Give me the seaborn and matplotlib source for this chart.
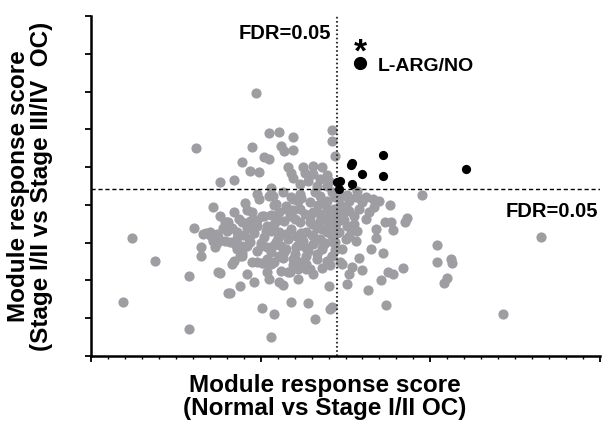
import pandas as pd
import seaborn as sns
import matplotlib.pyplot as plt
from matplotlib.lines import Line2D
from matplotlib.ticker import MultipleLocator

# Limiares de FDR (linhas tracejadas)
fdr_x = 1.447
fdr_y = 4.42

# Modulos acima do limiar do eixo y (lado esquerdo)
upper_x = [0.97, 0.62, 0.95, 1.02, 1.05, 1.05, 1.11, 1.19, 1.12, 1.14, 1.19, 0.89, 0.94, 0.99, 0.76, 0.84, 1.16, 1.18,
           1.19, 1.25, 1.26, 1.31, 1.31, 1.36, 1.39, 1.40, 1.39, 1.42, 1.42, 1.44, 1.33, 1.06, 1.23, 1.28, 1.35]
upper_y = [6.96, 5.50, 5.53, 5.26, 5.21, 5.90, 5.93, 5.79, 5.56, 5.42, 5.45, 5.13, 4.89, 4.87, 4.60, 4.66, 5.00, 4.84,
           4.71, 5.00, 4.84, 5.03, 4.81, 5.00, 4.79, 4.63, 4.50, 5.98, 5.69, 5.29, 4.50, 4.44, 4.55, 4.63, 4.68]

# Pontos isolados
outlier_x = [0.24, 0.38, 0.19, 0.58, 0.58, 0.61, 0.72, 1.06, 1.01, 1.08, 1.18, 1.28, 1.32, 1.41, 1.40, 1.36]
outlier_y = [3.12, 2.51, 1.43, 2.12, 0.71, 3.39, 3.94, 0.50, 1.27, 1.11, 1.43, 1.40, 0.98, 1.24, 1.85, 2.33]

# Nucleo denso (abaixo do limiar, lado esquerdo)
core1_x = [0.91, 0.76, 0.84, 0.81, 0.65, 0.65, 0.75, 0.76, 0.81, 0.82, 0.88, 0.92, 0.96, 1.01, 1.04, 1.05, 1.11, 1.13,
           1.12, 1.16, 1.22, 1.22, 1.27, 1.29, 1.31]
core1_y = [4.05, 3.70, 3.81, 3.54, 2.65, 2.88, 2.22, 2.20, 1.67, 1.67, 1.85, 2.17, 1.96, 2.46, 2.22, 2.04, 1.96, 1.88,
           2.25, 2.22, 2.04, 2.30, 2.43, 2.30, 2.17]
core2_x = [0.72, 0.70, 0.68, 0.75, 0.78, 0.80, 0.83, 0.86, 0.87, 0.89, 0.94, 0.95, 0.98, 1.01, 1.04, 1.06, 1.08, 1.11,
           1.14, 1.19, 0.66]
core2_y = [3.04, 3.28, 3.25, 3.15, 3.39, 3.54, 3.39, 3.28, 3.62, 3.54, 3.57, 3.81, 3.44, 3.70, 3.44, 3.73, 3.49, 3.81,
           3.57, 3.86, 3.23]
core3_x = [0.82, 0.86, 0.89, 0.92, 0.98, 1.04, 1.06, 1.09, 1.11, 1.15, 1.21, 1.27, 1.31, 1.35, 1.39, 1.42, 1.31, 1.36,
           1.21, 1.15]
core3_y = [3.02, 2.83, 2.65, 2.91, 2.78, 2.88, 2.75, 3.02, 3.28, 3.23, 3.17, 3.28, 3.17, 3.10, 3.28, 3.17, 2.96, 2.83,
           2.88, 2.83]
core4_x = [0.98, 1.05, 1.13, 1.19, 1.23, 1.29, 1.35, 1.39, 1.42, 1.39, 1.31, 1.23, 1.15, 1.09]
core4_y = [4.29, 4.23, 4.34, 4.15, 4.29, 4.07, 4.23, 4.10, 4.34, 3.89, 3.81, 3.89, 3.97, 4.02]
core5_x = [1.23, 1.29, 1.35, 1.39, 1.42, 1.44, 1.41, 1.27, 1.33, 1.39, 1.42, 1.19, 1.11, 1.04, 0.95]
core5_y = [3.54, 3.54, 3.57, 3.62, 3.70, 3.44, 3.36, 2.65, 2.57, 2.51, 2.65, 2.57, 2.65, 2.57, 2.49]
core6_x = [0.71, 0.74, 0.73, 0.85, 0.89, 0.94, 0.84, 0.83, 0.88, 0.89, 0.98, 1.02, 1.06, 1.08, 1.17, 1.23, 1.27]
core6_y = [3.17, 3.23, 2.88, 2.96, 2.91, 3.02, 2.51, 2.43, 2.65, 2.72, 2.49, 2.46, 2.43, 2.49, 2.22, 2.49, 2.30]
core7_x = [0.92, 1.02, 1.08, 1.15, 1.18, 1.22, 0.99, 1.07, 0.70, 0.79]
core7_y = [3.86, 3.70, 3.99, 3.89, 4.21, 4.10, 4.15, 4.23, 3.23, 3.54]
core8_x = [1.25, 1.33, 1.18, 1.20, 1.37, 1.43, 1.28, 1.40, 1.34, 1.26, 1.16, 1.10, 1.02, 0.96, 0.92, 1.00, 1.12, 1.24,
           1.44, 1.44, 1.30, 1.22, 1.06, 0.98]
core8_y = [3.05, 3.40, 3.35, 3.62, 2.95, 3.00, 2.78, 3.85, 4.00, 3.75, 3.10, 3.12, 3.15, 3.25, 3.40, 3.00, 2.90, 3.25,
           2.80, 3.60, 3.50, 2.95, 3.30, 3.60]
core9_x = [1.30, 1.36, 1.40, 1.33, 1.26, 1.20, 1.14, 1.08, 1.00, 0.93, 0.86, 0.79, 0.74, 1.38, 1.43, 1.35, 1.29, 1.17,
           1.10, 1.03, 0.97, 1.24, 1.32, 1.38, 1.45, 1.41, 1.19, 1.13, 0.90, 0.80]
core9_y = [3.20, 3.35, 3.48, 2.70, 2.88, 2.70, 2.75, 2.95, 2.90, 3.10, 3.12, 3.05, 2.98, 4.05, 3.90, 3.75, 3.68, 3.70,
           3.60, 3.30, 3.45, 4.18, 4.35, 3.00, 3.25, 2.40, 2.42, 2.60, 3.20, 3.30]

# Lado direito (abaixo do limiar)
right_x = [1.95, 1.66, 1.70, 1.76, 1.67, 1.62, 1.73, 1.77, 1.78, 1.86, 1.85, 1.68, 1.68, 1.65, 1.72, 2.04, 2.04, 2.12,
           2.13, 2.10, 2.08, 1.48, 1.54, 1.52, 1.51, 1.60, 1.75, 1.78, 1.84, 1.71, 1.63, 1.74, 2.65, 2.43]
right_y = [4.26, 4.15, 4.10, 3.99, 3.94, 3.62, 3.54, 3.54, 3.33, 3.65, 3.54, 3.36, 3.12, 2.83, 2.72, 2.94, 2.49, 2.57,
           2.46, 2.06, 1.93, 2.43, 2.35, 2.17, 1.90, 2.28, 2.22, 2.17, 2.33, 2.01, 1.75, 1.35, 3.15, 1.11]
near_x = [1.44, 1.48, 1.52, 1.56, 1.60, 1.58, 1.52, 1.48, 1.45, 1.51, 1.55, 1.57, 1.46, 1.52, 1.44, 1.48, 1.42, 1.42,
          1.57, 1.59, 1.51, 1.47, 1.50, 1.55, 1.49, 1.53, 1.46, 1.50, 1.56, 1.62, 1.47, 1.58, 1.64]
near_y = [4.21, 4.23, 4.10, 4.21, 4.07, 3.89, 3.84, 3.70, 3.54, 3.44, 3.49, 3.31, 3.28, 3.17, 3.02, 2.83, 2.65, 1.30,
          4.37, 4.15, 4.26, 4.00, 3.95, 3.70, 3.60, 3.35, 3.85, 3.10, 3.05, 4.20, 2.50, 2.60, 3.80]

# Modulos L-ARG/NO (pontos pretos)
larg_x = [1.72, 1.53, 1.54, 1.60, 1.72, 1.45, 1.47, 1.54, 1.46, 2.21]
larg_y = [5.32, 5.05, 5.11, 4.81, 4.77, 4.61, 4.64, 4.55, 4.41, 4.95]

gray_x = (upper_x + outlier_x + core1_x + core2_x + core3_x + core4_x + core5_x + core6_x + core7_x + core8_x
          + core9_x + right_x + near_x)
gray_y = (upper_y + outlier_y + core1_y + core2_y + core3_y + core4_y + core5_y + core6_y + core7_y + core8_y
          + core9_y + right_y + near_y)

dados = pd.DataFrame({'x': gray_x + larg_x, 'y': gray_y + larg_y,
                      'grupo': ['outros'] * len(gray_x) + ['L-ARG/NO'] * len(larg_x)})

sns.set_style('ticks')
plt.rcParams['font.family'] = ['Liberation Sans', 'DejaVu Sans']
plt.rcParams['text.color'] = 'black'

fig = plt.figure(figsize=(6.02, 4.27), dpi=100)
ax = fig.add_axes([91 / 602, 70 / 427, 509 / 602, 340 / 427])

sns.scatterplot(data=dados[dados.grupo == 'outros'], x='x', y='y', color='#9e9ea2', s=54,
                linewidth=0, legend=False, ax=ax, zorder=1)
sns.scatterplot(data=dados[dados.grupo == 'L-ARG/NO'], x='x', y='y', color='black', s=44,
                linewidth=0, legend=False, ax=ax, zorder=3)

ax.axhline(fdr_y, color='black', lw=1.0, ls=(0, (3, 2)), zorder=2)
ax.axvline(fdr_x, color='#333333', lw=1.5, ls=(0, (0.8, 1.2)), zorder=2)

ax.set_xlim(0, 3)
ax.set_ylim(0, 9)
ax.xaxis.set_major_locator(MultipleLocator(1))
ax.xaxis.set_minor_locator(MultipleLocator(0.1))
ax.yaxis.set_major_locator(MultipleLocator(1))
ax.tick_params(which='major', length=4, width=1.3, color='black', labelleft=False, labelbottom=False)
ax.tick_params(which='minor', length=2.5, width=1.0, color='black')
ax.set_xlabel('')
ax.set_ylabel('')
sns.despine(ax=ax)
for lado in ['left', 'bottom']:
    ax.spines[lado].set_linewidth(1.8)
    ax.spines[lado].set_color('black')

# Textos
ax.text(fdr_x - 0.03, 8.57, 'FDR=0.05', ha='right', va='center', fontsize=14.5, fontweight='bold', color='black')
ax.text(2.99, 3.86, 'FDR=0.05', ha='right', va='center', fontsize=14.5, fontweight='bold', color='black')
ax.text(1.59, 8.05, '*', ha='center', va='center', fontsize=24, fontweight='bold', color='black')

marcador = Line2D([], [], marker='o', color='black', ls='', markersize=8.5)
ax.legend(handles=[marcador], labels=['L-ARG/NO'], loc='center left', bbox_to_anchor=(0.513, 0.856),
          frameon=False, borderpad=0, borderaxespad=0, handlelength=0.8, handletextpad=0.5,
          prop={'size': 14, 'weight': 'bold'})

fig.text(325 / 602, 1 - 397 / 427, 'Module response score\n(Normal vs Stage I/II OC)', ha='center', va='center',
         fontsize=17.5, fontweight='bold', linespacing=1.05, color='black')
fig.text(30 / 602, 1 - 186 / 427, 'Module response score\n(Stage I/II vs Stage III/IV  OC)', ha='center',
         va='center', rotation=90, fontsize=17.5, fontweight='bold', linespacing=1.05, color='black')

plt.savefig('out.png', dpi=100)
